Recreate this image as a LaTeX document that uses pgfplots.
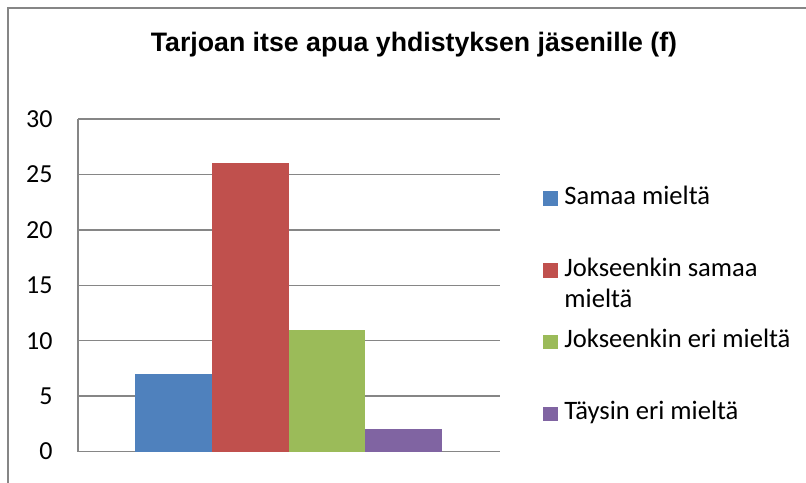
\documentclass[border=0pt]{standalone}
\usepackage{fontspec}
\setmainfont{Carlito}
\newfontfamily\titlefont{Liberation Sans}
\usepackage{pgfplots}
\pgfplotsset{compat=1.18}
\definecolor{c1}{HTML}{4F81BD}
\definecolor{c2}{HTML}{C0504D}
\definecolor{c3}{HTML}{9BBB59}
\definecolor{c4}{HTML}{8064A2}
\definecolor{gridc}{RGB}{134,134,134}
\definecolor{framec}{RGB}{134,134,134}
\pgfplotsset{sq/.style={legend image code/.code={\fill[##1] (0pt,0pt) rectangle (7.3pt,7.3pt);}}}
\begin{document}
\begin{tikzpicture}
\clip (0,0) rectangle (403pt,241pt);
\draw[framec, line width=0.6pt] (4pt,-10pt) -- (4pt,237pt) -- (420pt,237pt);
\node[anchor=base, font=\titlefont\bfseries\fontsize{13.35}{16}\selectfont] at (207pt,215pt) {Tarjoan itse apua yhdistyksen jäsenille (f)};
\begin{axis}[
  at={(39pt,15.25pt)}, anchor=south west,
  scale only axis, width=210.75pt, height=166.25pt,
  xmin=-1.374, xmax=1.374, ymin=0, ymax=30,
  enlargelimits=false,
  ytick={0,5,...,30}, xtick=\empty,
  major tick length=0pt,
  ybar=0pt, bar width=0.5,
  axis lines*=left,
  axis line style={gridc, line width=0.75pt},
  ymajorgrids, grid style={gridc, line width=0.75pt},
  /pgf/number format/assume math mode=true,
  yticklabel style={font=\fontsize{13}{15}\selectfont, anchor=east, inner sep=0pt, xshift=-12.5pt},
  legend cell align=left,
  legend style={at={(1.1032,0.7844)}, anchor=north west, draw=none, fill=none,
    inner sep=0pt, row sep=27.87pt, column sep=3.2pt,
    nodes={inner sep=0pt, font=\fontsize{13.3}{15.5}\selectfont}},
]
\addplot[fill=c1, draw=none, sq] coordinates {(0,7)};
\addlegendentry{\smash{Samaa mieltä}}
\addplot[fill=c2, draw=none, sq] coordinates {(0,26)};
\addlegendentry{\smash{\parbox[t]{5cm}{Jokseenkin samaa\\mieltä}}}
\addplot[fill=c3, draw=none, sq] coordinates {(0,11)};
\addlegendentry{\smash{Jokseenkin eri mieltä}}
\addplot[fill=c4, draw=none, sq] coordinates {(0,2)};
\addlegendentry{\smash{Täysin eri mieltä}}
\end{axis}
\end{tikzpicture}
\end{document}
